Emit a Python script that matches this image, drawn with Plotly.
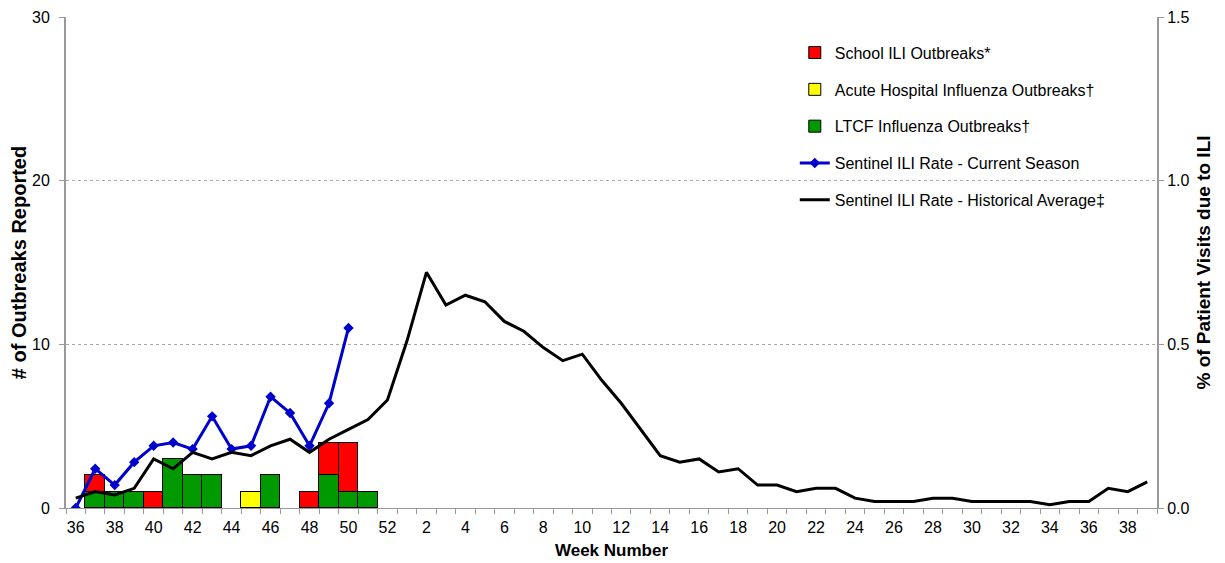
import plotly.graph_objects as go

weeks = list(range(36, 53)) + list(range(1, 40))

ltcf = [0, 1, 1, 1, 0, 3, 2, 2, 0, 0, 2, 0, 0, 2, 1, 1, 0]
hosp = [0, 0, 0, 0, 0, 0, 0, 0, 0, 1, 0, 0, 0, 0, 0, 0, 0]
school = [0, 1, 0, 0, 1, 0, 0, 0, 0, 0, 0, 0, 1, 2, 3, 0, 0]

current = [0.00, 0.12, 0.07, 0.14, 0.19, 0.20, 0.18, 0.28, 0.18, 0.19, 0.34, 0.29, 0.19, 0.32, 0.55]

historical = [0.03, 0.05, 0.04, 0.06, 0.15, 0.12, 0.17, 0.15, 0.17, 0.16, 0.19, 0.21, 0.17, 0.21, 0.24, 0.27, 0.33,
              0.51, 0.72, 0.62, 0.65, 0.63, 0.57, 0.54, 0.49, 0.45, 0.47, 0.39, 0.32, 0.24, 0.16, 0.14, 0.15,
              0.11, 0.12, 0.07, 0.07, 0.05, 0.06, 0.06, 0.03, 0.02, 0.02, 0.02, 0.03, 0.03, 0.02, 0.02, 0.02,
              0.02, 0.01, 0.02, 0.02, 0.06, 0.05, 0.08]

idx = list(range(len(weeks)))


def nz(a):
    return [v if v else None for v in a]


FONT = "Liberation Sans, Arial, sans-serif"
fig = go.Figure()

bar_specs = [
    ("LTCF Influenza Outbreaks†", ltcf, "#009900", 3),
    ("Acute Hospital Influenza Outbreaks†", hosp, "#FFFF00", 2),
    ("School ILI Outbreaks*", school, "#FF0000", 1),
]
for name, vals, color, rank in bar_specs:
    fig.add_trace(go.Bar(
        x=idx[:len(vals)], y=nz(vals), name=name,
        marker=dict(color=color, line=dict(color="black", width=1)),
        legendrank=rank, legendgroup=name, width=1,
    ))

fig.add_trace(go.Scatter(
    x=idx[:len(current)], y=current, name="Sentinel ILI Rate - Current Season",
    mode="lines+markers", yaxis="y2",
    line=dict(color="#0000CC", width=3),
    marker=dict(symbol="diamond", size=8, color="#0000CC"),
    legendrank=4, legendgroup="cur",
))
fig.add_trace(go.Scatter(
    x=idx, y=historical, name="Sentinel ILI Rate - Historical Average‡",
    mode="lines", yaxis="y2",
    line=dict(color="black", width=3),
    legendrank=5, legendgroup="hist",
))

tickvals = idx[::2]
ticktext = [str(weeks[i]) for i in tickvals]

fig.update_layout(
    width=1225, height=563,
    margin=dict(l=58, r=76, t=9, b=63),
    paper_bgcolor="white", plot_bgcolor="white",
    font=dict(family=FONT, size=16, color="black"),
    barmode="stack", bargap=0,
    showlegend=True,
    legend=dict(x=0.668, y=0.962, xanchor="left", yanchor="top",
                bgcolor="rgba(0,0,0,0)", font=dict(size=16, family=FONT),
                tracegroupgap=13, itemwidth=30),
    xaxis=dict(
        automargin=False,
        range=[-0.5, len(weeks) - 0.5],
        tickmode="array", tickvals=tickvals, ticktext=ticktext,
        ticks="", showgrid=False, zeroline=False,
        showline=True, linecolor="#999999", linewidth=1,
        minor=dict(tick0=-0.5, dtick=1, ticks="outside", ticklen=5,
                   tickcolor="#999999", showgrid=False),
        ticklabelstandoff=5,
        title=dict(text="<b>Week Number</b>", standoff=8, font=dict(size=17)),
        tickfont=dict(size=16),
    ),
    yaxis=dict(
        automargin=False,
        range=[0, 30], tickvals=[0, 10, 20, 30],
        showgrid=True, gridcolor="#AAAAAA", griddash="dot", gridwidth=1,
        zeroline=False, showline=True, linecolor="#999999", linewidth=2,
        ticks="outside", ticklen=5, tickcolor="#999999",
        ticklabelstandoff=6,
        title=dict(text="<b># of Outbreaks Reported</b>", standoff=0, font=dict(size=20)),
        tickfont=dict(size=16),
    ),
    yaxis2=dict(
        automargin=False,
        range=[0, 1.5], tickvals=[0, 0.5, 1.0, 1.5], tickformat=".1f",
        overlaying="y", side="right", showgrid=False, zeroline=False,
        showline=True, linecolor="#999999", linewidth=2,
        ticks="outside", ticklen=5, tickcolor="#999999",
        title=dict(text="<b>% of Patient Visits due to ILI</b>", standoff=8, font=dict(size=19)),
        tickfont=dict(size=16),
    ),
)

fig.write_html("out.html")
